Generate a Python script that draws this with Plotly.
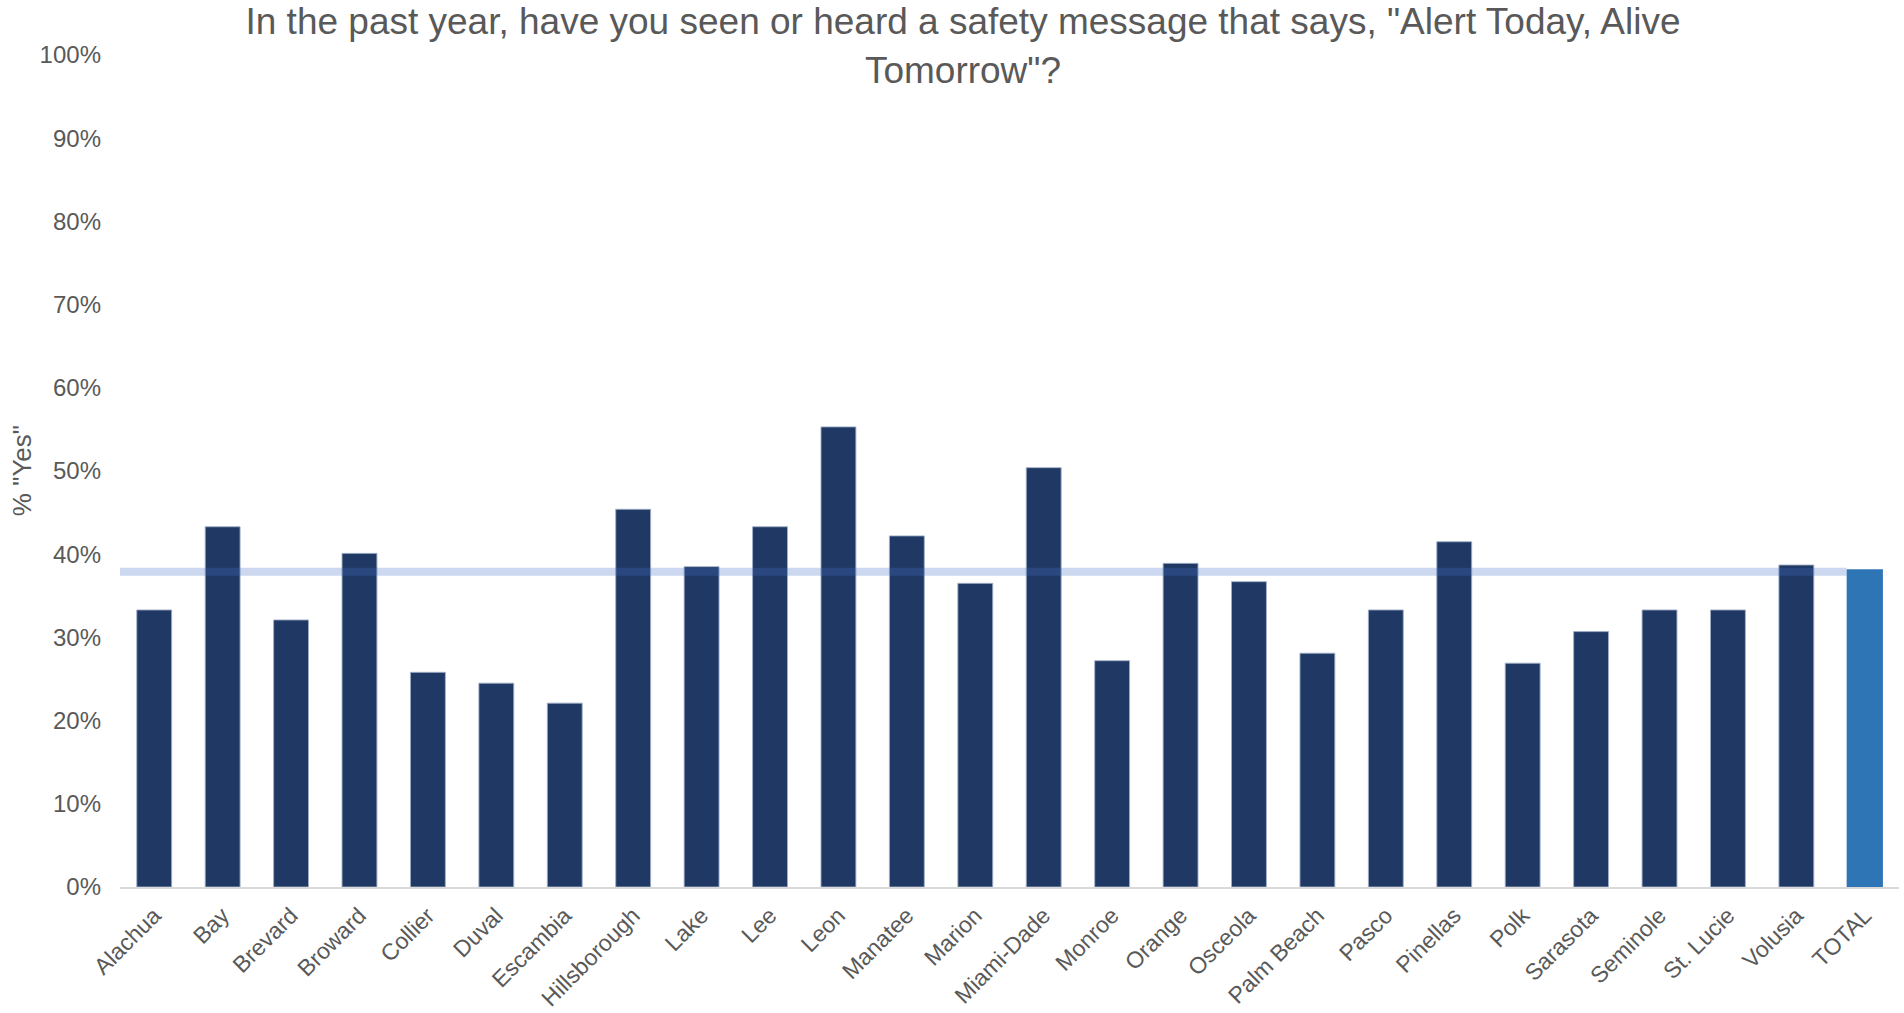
import plotly.graph_objects as go

counties = ["Alachua", "Bay", "Brevard", "Broward", "Collier", "Duval", "Escambia",
            "Hillsborough", "Lake", "Lee", "Leon", "Manatee", "Marion", "Miami-Dade",
            "Monroe", "Orange", "Osceola", "Palm Beach", "Pasco", "Pinellas", "Polk",
            "Sarasota", "Seminole", "St. Lucie", "Volusia"]
county_yes = [33.3, 43.3, 32.1, 40.1, 25.8, 24.5, 22.1, 45.4, 38.5, 43.3, 55.3, 42.2,
              36.5, 50.4, 27.2, 38.9, 36.7, 28.1, 33.3, 41.5, 26.9, 30.7, 33.3, 33.3, 38.7]
total_label = "TOTAL"
total_yes = 38.2
reference_yes = 37.9
y_ticks = [0, 10, 20, 30, 40, 50, 60, 70, 80, 90, 100]
y_tick_labels = [f"{t}%" for t in y_ticks]

FONT = "Arial, 'Liberation Sans', sans-serif"
GREY = "#595959"
BAR_WIDTH = 0.51

fig = go.Figure()
fig.add_trace(go.Bar(
    x=counties, y=county_yes, width=BAR_WIDTH,
    marker=dict(color="#203864", line=dict(color="rgba(160,175,200,0.9)", width=1)),
    showlegend=False,
))
fig.add_trace(go.Bar(
    x=[total_label], y=[total_yes], width=BAR_WIDTH + 0.02,
    marker=dict(color="#2E75B6", line=dict(width=0)),
    showlegend=False,
))

n_cat = len(counties) + 1
fig.add_shape(type="line", xref="x", yref="y",
              x0=-0.53, x1=(n_cat - 1) - (BAR_WIDTH + 0.02) / 2,
              y0=reference_yes, y1=reference_yes,
              line=dict(color="rgba(68,114,196,0.28)", width=8), layer="above")

fig.add_annotation(text='% "Yes"', xref="paper", yref="paper",
                   x=-0.055, y=0.5, xanchor="center", yanchor="middle",
                   textangle=-90, showarrow=False,
                   font=dict(size=26, color=GREY, family=FONT))

fig.update_layout(
    width=1904, height=1013,
    margin=dict(l=120, r=5, t=55, b=126),
    paper_bgcolor="white", plot_bgcolor="white",
    font=dict(family=FONT, color=GREY, size=24),
    title=dict(
        text='In the past year, have you seen or heard a safety message that says, "Alert Today, Alive<br>Tomorrow"?',
        font=dict(family=FONT, size=37, color=GREY),
        x=963 / 1904, xanchor="center", xref="container",
        y=0.966, yanchor="top", yref="container",
    ),
    bargap=0.49,
    xaxis=dict(
        categoryorder="array", categoryarray=counties + [total_label],
        range=[-0.5, n_cat - 0.5],
        tickangle=-45, tickfont=dict(size=23, color=GREY, family=FONT),
        showgrid=False, showline=True, linecolor="#d9d9d9", linewidth=2,
        ticks="", zeroline=False, automargin=False, ticklabelstandoff=4,
    ),
    yaxis=dict(
        range=[0, 100], tickvals=y_ticks, ticktext=y_tick_labels,
        tickfont=dict(size=24, color=GREY, family=FONT),
        showgrid=False, showline=False, zeroline=False, ticks="",
        ticklabelstandoff=18, automargin=False,
    ),
)

fig.write_html("out.html")
